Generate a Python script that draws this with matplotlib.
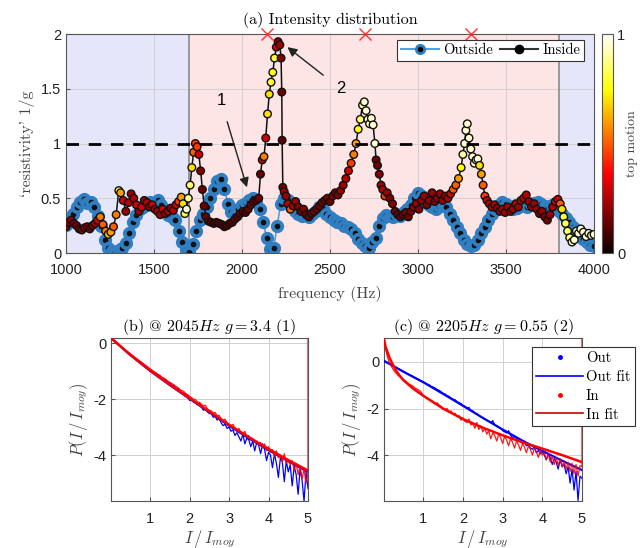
import numpy as np
import matplotlib
matplotlib.use("Agg")
import matplotlib.pyplot as plt
from matplotlib.lines import Line2D
from matplotlib import cm, colors

plt.rcParams.update({
    "font.family": ["Liberation Sans", "DejaVu Sans"],
    "mathtext.fontset": "cm",
    "axes.unicode_minus": False,
    "font.size": 10,
})
SERIF = ["cmr10", "DejaVu Serif"]

# ---------------- panel (a) data ----------------
outside_freq = np.arange(1000, 4001, 20)
outside_val = [
    0.26, 0.30, 0.36, 0.42, 0.47, 0.49, 0.46, 0.47, 0.42, 0.34,
    0.25, 0.12, 0.05, 0.02, 0.01, 0.03, 0.05, 0.09, 0.18, 0.28,
    0.35, 0.40, 0.42, 0.45, 0.47, 0.46, 0.48, 0.44, 0.38, 0.35,
    0.33, 0.30, 0.20, 0.10, 0.03, 0.01, 0.08, 0.20, 0.30, 0.36,
    0.42, 0.50, 0.58, 0.66, 0.68, 0.58, 0.45, 0.37, 0.36, 0.40,
    0.44, 0.46, 0.48, 0.50, 0.47, 0.40, 0.28, 0.14, 0.04, 0.05,
    0.25, 0.45, 0.50, 0.48, 0.42, 0.38, 0.36, 0.34, 0.35, 0.33,
    0.36, 0.38, 0.42, 0.40, 0.36, 0.33, 0.30, 0.28, 0.27, 0.25,
    0.24, 0.22, 0.18, 0.13, 0.09, 0.06, 0.05, 0.10, 0.14, 0.25,
    0.32, 0.35, 0.34, 0.33, 0.35, 0.34, 0.37, 0.40, 0.44, 0.50,
    0.55, 0.52, 0.47, 0.44, 0.42, 0.40, 0.43, 0.44, 0.42, 0.36,
    0.30, 0.24, 0.18, 0.12, 0.08, 0.06, 0.07, 0.12, 0.18, 0.24,
    0.30, 0.36, 0.40, 0.44, 0.47, 0.45, 0.42, 0.40, 0.41, 0.43,
    0.44, 0.42, 0.45, 0.46, 0.47, 0.45, 0.43, 0.42, 0.44, 0.42,
    0.38, 0.36, 0.32, 0.28, 0.24, 0.21, 0.18, 0.13, 0.10, 0.07,
    0.06,
]

inside_freq = [
    1000, 1015, 1030, 1045, 1060, 1075, 1090, 1105, 1120, 1135,
    1150, 1165, 1180, 1195, 1210, 1225, 1240, 1255, 1270, 1285,
    1300, 1310, 1325, 1340, 1355, 1370, 1385, 1400, 1415, 1430,
    1445, 1460, 1475, 1490, 1505, 1520, 1535, 1550, 1565, 1580,
    1595, 1610, 1625, 1640, 1655, 1665, 1675, 1685, 1695, 1705,
    1715, 1725, 1735, 1745, 1755, 1765, 1775, 1785, 1795, 1810,
    1825, 1840, 1855, 1870, 1885, 1900, 1915, 1930, 1945, 1960,
    1975, 1990, 2005, 2020, 2035, 2050, 2065, 2080, 2095, 2105,
    2115, 2125, 2135, 2145, 2155, 2165, 2175, 2185, 2195, 2205,
    2215, 2222, 2226, 2228, 2232, 2240, 2250, 2260, 2275, 2290,
    2305, 2320, 2335, 2350, 2365, 2380, 2395, 2410, 2425, 2440,
    2455, 2470, 2485, 2500, 2515, 2530, 2545, 2560, 2575, 2590,
    2605, 2620, 2635, 2648, 2660, 2672, 2685, 2695, 2705, 2715,
    2725, 2735, 2745, 2755, 2762, 2770, 2780, 2790, 2800, 2812,
    2825, 2840, 2855, 2870, 2885, 2900, 2915, 2930, 2945, 2960,
    2975, 2990, 3005, 3020, 3035, 3050, 3065, 3080, 3095, 3110,
    3125, 3140, 3155, 3170, 3185, 3200, 3215, 3230, 3245, 3255,
    3265, 3272, 3280, 3290, 3300, 3310, 3320, 3330, 3340, 3350,
    3360, 3370, 3380, 3392, 3405, 3420, 3435, 3450, 3465, 3480,
    3495, 3510, 3525, 3540, 3555, 3570, 3585, 3600, 3615, 3630,
    3645, 3660, 3675, 3690, 3705, 3720, 3735, 3750, 3765, 3780,
    3795, 3808, 3818, 3828, 3838, 3850, 3862, 3875, 3888, 3900,
    3912, 3925, 3940, 3955, 3970, 3985, 4000,
]
inside_val = [
    0.24, 0.28, 0.30, 0.27, 0.25, 0.22, 0.21, 0.23, 0.24, 0.22,
    0.25, 0.27, 0.30, 0.33, 0.26, 0.20, 0.17, 0.19, 0.24, 0.35,
    0.57, 0.55, 0.48, 0.38, 0.46, 0.54, 0.50, 0.44, 0.38, 0.42,
    0.48, 0.46, 0.42, 0.44, 0.40, 0.38, 0.35, 0.40, 0.36, 0.38,
    0.41, 0.39, 0.44, 0.47, 0.51, 0.45, 0.36, 0.40, 0.50, 0.62,
    0.78, 0.92, 1.00, 0.97, 0.90, 0.75, 0.58, 0.43, 0.33, 0.29,
    0.28, 0.27, 0.28, 0.27, 0.26, 0.24, 0.25, 0.27, 0.28, 0.31,
    0.33, 0.36, 0.38, 0.37, 0.40, 0.44, 0.47, 0.48, 0.50, 0.72,
    0.85, 0.88, 1.05, 1.27, 1.45, 1.56, 1.65, 1.78, 1.88, 1.93,
    1.90, 1.78, 1.47, 1.03, 0.60, 0.56, 0.52, 0.45, 0.40, 0.43,
    0.47, 0.42, 0.38, 0.40, 0.35, 0.33, 0.36, 0.38, 0.40, 0.43,
    0.46, 0.48, 0.50, 0.47, 0.52, 0.55, 0.53, 0.57, 0.62, 0.68,
    0.75, 0.82, 0.90, 1.00, 1.13, 1.22, 1.35, 1.38, 1.30, 1.22,
    1.18, 1.23, 1.17, 1.00, 0.85, 0.80, 0.72, 0.62, 0.58, 0.52,
    0.55, 0.50, 0.45, 0.38, 0.35, 0.33, 0.35, 0.37, 0.33, 0.38,
    0.42, 0.45, 0.40, 0.48, 0.52, 0.44, 0.48, 0.55, 0.47, 0.50,
    0.54, 0.48, 0.52, 0.50, 0.54, 0.58, 0.62, 0.68, 0.78, 0.90,
    1.00, 1.12, 1.18, 1.05, 0.95, 0.88, 0.82, 0.85, 0.86, 0.80,
    0.72, 0.62, 0.52, 0.48, 0.45, 0.42, 0.44, 0.41, 0.38, 0.40,
    0.37, 0.42, 0.38, 0.40, 0.45, 0.42, 0.48, 0.50, 0.53, 0.47,
    0.42, 0.45, 0.40, 0.36, 0.38, 0.33, 0.30, 0.35, 0.42, 0.47,
    0.49, 0.45, 0.40, 0.33, 0.27, 0.20, 0.14, 0.10, 0.12, 0.20,
    0.18, 0.22, 0.19, 0.15, 0.18, 0.16, 0.17,
]
inside_motion = [
    0.18, 0.22, 0.22, 0.18, 0.18, 0.15, 0.18, 0.22, 0.18, 0.15,
    0.18, 0.22, 0.30, 0.55, 0.50, 0.55, 0.65, 0.60, 0.50, 0.55,
    0.80, 0.60, 0.30, 0.22, 0.26, 0.22, 0.26, 0.30, 0.22, 0.30,
    0.22, 0.26, 0.22, 0.30, 0.22, 0.26, 0.22, 0.30, 0.22, 0.26,
    0.22, 0.26, 0.30, 0.45, 0.60, 0.70, 0.80, 0.95, 0.90, 0.85,
    0.70, 0.50, 0.45, 0.45, 0.30, 0.18, 0.15, 0.15, 0.15, 0.12,
    0.12, 0.12, 0.12, 0.12, 0.12, 0.12, 0.12, 0.12, 0.12, 0.15,
    0.12, 0.15, 0.15, 0.12, 0.15, 0.15, 0.15, 0.12, 0.15, 0.15,
    0.26, 0.55, 0.30, 0.70, 0.70, 0.80, 0.75, 0.80, 0.30, 0.18,
    0.22, 0.18, 0.15, 0.12, 0.15, 0.22, 0.22, 0.26, 0.50, 0.22,
    0.22, 0.18, 0.18, 0.18, 0.15, 0.15, 0.15, 0.18, 0.15, 0.15,
    0.18, 0.15, 0.18, 0.15, 0.18, 0.15, 0.18, 0.22, 0.22, 0.26,
    0.30, 0.45, 0.55, 0.60, 0.75, 0.85, 0.90, 0.95, 0.95, 0.95,
    0.95, 0.95, 0.95, 0.95, 0.15, 0.15, 0.18, 0.22, 0.26, 0.45,
    0.22, 0.18, 0.18, 0.15, 0.15, 0.15, 0.15, 0.18, 0.15, 0.18,
    0.22, 0.22, 0.18, 0.22, 0.22, 0.18, 0.22, 0.22, 0.18, 0.22,
    0.22, 0.22, 0.22, 0.26, 0.30, 0.50, 0.50, 0.60, 0.75, 0.90,
    0.95, 0.95, 0.95, 0.95, 0.95, 0.95, 0.95, 0.95, 0.95, 0.70,
    0.60, 0.50, 0.45, 0.30, 0.26, 0.26, 0.26, 0.22, 0.22, 0.26,
    0.22, 0.26, 0.22, 0.22, 0.26, 0.22, 0.26, 0.26, 0.26, 0.22,
    0.22, 0.22, 0.22, 0.18, 0.22, 0.18, 0.15, 0.22, 0.26, 0.30,
    0.30, 0.50, 0.70, 0.80, 0.85, 0.85, 0.85, 0.90, 0.95, 0.95,
    0.95, 0.95, 0.95, 0.95, 0.95, 0.95, 0.95,
]

regions = [(1000, 1700, "out"), (1700, 3800, "in"), (3800, 4000, "out")]
boundaries = [1700, 3800]
cross_freq = [2140, 2700, 3300]
threshold = 1.0

# ---------------- panels (b), (c) data ----------------
x_grid = np.round(np.arange(1, 101) * 0.05, 2)
fit_x = [0.01, 0.5, 1.0, 1.5, 2.0, 2.5, 3.0, 3.5, 4.0, 4.5, 5.0]

b_out = [
    0.12, 0.06, 0.00, -0.06, -0.12, -0.17, -0.23, -0.29, -0.33, -0.40,
    -0.45, -0.51, -0.55, -0.62, -0.66, -0.72, -0.77, -0.82, -0.88, -0.95,
    -0.98, -1.05, -1.08, -1.14, -1.18, -1.25, -1.28, -1.33, -1.40, -1.43,
    -1.50, -1.52, -1.60, -1.62, -1.70, -1.75, -1.78, -1.85, -1.86, -2.05,
    -2.00, -2.10, -2.12, -2.20, -2.15, -2.28, -2.40, -2.35, -2.45, -2.52,
    -2.50, -2.65, -2.62, -2.75, -2.70, -2.85, -2.95, -2.90, -3.05, -3.00,
    -3.15, -3.10, -3.30, -3.20, -3.35, -3.50, -3.25, -3.60, -3.40, -3.45,
    -3.70, -3.50, -3.85, -3.55, -3.65, -3.95, -3.60, -3.80, -4.20, -3.90,
    -4.00, -4.45, -3.95, -4.30, -4.80, -4.10, -4.25, -4.95, -4.20, -4.60,
    -4.35, -5.10, -4.40, -4.70, -5.40, -4.50, -4.90, -5.65, -4.60, -5.20,
]
b_in = [
    0.15, 0.07, 0.02, -0.05, -0.10, -0.17, -0.22, -0.28, -0.34, -0.38,
    -0.44, -0.50, -0.55, -0.60, -0.66, -0.70, -0.76, -0.82, -0.86, -0.92,
    -0.97, -1.02, -1.06, -1.12, -1.15, -1.22, -1.25, -1.30, -1.36, -1.40,
    -1.45, -1.48, -1.55, -1.58, -1.65, -1.70, -1.72, -1.80, -1.84, -1.90,
    -1.95, -2.00, -2.02, -2.10, -2.12, -2.18, -2.25, -2.22, -2.35, -2.40,
    -2.42, -2.50, -2.48, -2.60, -2.58, -2.70, -2.75, -2.72, -2.85, -2.90,
    -2.95, -2.90, -3.05, -3.10, -3.05, -3.20, -3.25, -3.15, -3.35, -3.30,
    -3.45, -3.40, -3.55, -3.50, -3.65, -3.55, -3.75, -3.60, -3.85, -3.70,
    -3.90, -3.80, -4.05, -3.85, -4.10, -4.00, -4.25, -3.95, -4.30, -4.15,
    -4.35, -4.20, -4.55, -4.30, -4.70, -4.40, -4.85, -4.50, -5.00, -4.65,
    10.0,
]
b_out_fit = [0.18, -0.43, -0.99, -1.50, -1.99, -2.47, -2.95, -3.40, -3.82, -4.22, -4.60]
b_in_fit = [0.18, -0.42, -0.98, -1.49, -1.97, -2.44, -2.92, -3.36, -3.78, -4.18, -4.55]

c_out = [
    0.02, -0.03, -0.08, -0.12, -0.18, -0.22, -0.27, -0.31, -0.36, -0.40,
    -0.45, -0.50, -0.55, -0.58, -0.63, -0.68, -0.72, -0.76, -0.82, -0.85,
    -0.90, -0.95, -0.98, -1.05, -1.08, -1.12, -1.18, -1.22, -1.28, -1.35,
    -1.38, -1.45, -1.48, -1.55, -1.60, -1.62, -1.70, -1.75, -1.78, -1.88,
    -1.90, -1.98, -1.95, -2.08, -2.10, -2.20, -2.22, -2.30, -2.35, -2.40,
    -2.45, -2.50, -2.55, -2.60, -2.52, -2.70, -2.75, -2.80, -2.85, -2.95,
    -3.00, -3.05, -2.95, -3.15, -3.25, -3.20, -3.30, -3.40, -3.35, -3.50,
    -3.45, -3.60, -3.55, -3.70, -3.75, -3.65, -3.90, -3.80, -3.95, -3.85,
    -4.00, -4.20, -3.95, -4.10, -4.40, -4.15, -4.30, -4.60, -4.20, -4.50,
    -4.40, -4.80, -4.50, -5.20, -4.60, -5.50, -4.70, -5.95, -4.90, -5.00,
]
c_in = [
    0.55, 0.20, -0.05, -0.20, -0.35, -0.45, -0.55, -0.62, -0.70, -0.76,
    -0.82, -0.90, -0.95, -1.00, -1.05, -1.12, -1.17, -1.22, -1.30, -1.45,
    -1.50, -1.55, -1.60, -1.65, -1.72, -1.80, -1.75, -1.85, -1.92, -2.00,
    -2.05, -2.00, -2.15, -2.10, -2.25, -2.20, -2.35, -2.30, -2.50, -2.40,
    -2.55, -2.60, -2.45, -2.70, -2.65, -2.85, -2.60, -2.90, -2.75, -3.00,
    -2.85, -3.10, -2.95, -3.30, -3.05, -3.15, -3.40, -3.10, -3.25, -3.50,
    -3.20, -3.35, -3.60, -3.30, -3.45, -3.70, -3.40, -3.55, -3.80, -3.50,
    -3.65, -3.90, -3.60, -3.75, -4.00, -3.70, -3.85, -4.10, -3.80, -4.00,
    -3.90, -4.20, -3.95, -4.30, -4.05, -4.40, -4.10, -4.45, -4.15, -4.50,
    -4.25, -4.60, -4.30, -4.70, -4.35, -4.80, -4.40, -4.90, -4.45, -4.50,
    10.0,
]
c_out_fit = [0.05, -0.42, -0.87, -1.37, -1.88, -2.40, -2.90, -3.38, -3.82, -4.24, -4.64]
c_in_fit_x = [0.01, 0.05, 0.1, 0.15, 0.2, 0.3, 0.4, 0.5, 0.75, 1.0, 1.5, 2.0, 2.5, 3.0, 3.5, 4.0, 4.5, 5.0]
c_in_fit = [1.0, 0.65, 0.42, 0.18, 0.0, -0.33, -0.58, -0.78, -1.15, -1.45, -2.0, -2.45, -2.82, -3.15, -3.45, -3.72, -4.0, -4.3]

# ---------------- figure ----------------
W, H = 644, 548
fig = plt.figure(figsize=(W / 100, H / 100), dpi=100)

def box(l, t, r, b):
    return [l / W, 1 - b / H, (r - l) / W, (b - t) / H]

ax = fig.add_axes(box(66, 34, 594, 253))
cax = fig.add_axes(box(602, 34, 613, 253))
axb = fig.add_axes(box(111, 338, 308, 501))
axc = fig.add_axes(box(384, 338, 582, 501))

EDGE = "#555555"
def style(a, xpad=6):
    for s in a.spines.values():
        s.set_color(EDGE)
        s.set_linewidth(0.8)
    a.tick_params(direction="in", length=3, color=EDGE, labelsize=10.5, labelcolor="#222222")
    a.tick_params(axis="x", pad=xpad)
    a.grid(True, color="#d0d0d0", linewidth=0.7)
    a.set_axisbelow(True)

# panel (a)
style(ax, xpad=7)
span_col = {"out": "#e6e6fb", "in": "#fde4e5"}
for lo, hi, kind in regions:
    ax.axvspan(lo, hi, color=span_col[kind], zorder=0.1, lw=0)
for bnd in boundaries:
    ax.axvline(bnd, color="#8a8a8a", lw=1.2, zorder=0.6)
ax.axhline(threshold, color="black", lw=2, dashes=(4.5, 3.5), zorder=5)

cmap = plt.get_cmap("hot")
norm = colors.Normalize(0, 1)
out_line_col = "#4da3dd"
out_edge_col = "#2f7fc2"
ax.plot(outside_freq, outside_val, "-", color=out_line_col, lw=1.2, zorder=2)
ax.plot(outside_freq, outside_val, "o", ms=6.8, mfc="#101010", mec=out_edge_col, mew=2.7, zorder=2.1)
ax.plot(inside_freq, inside_val, "-", color="#111111", lw=1.1, zorder=3)
ax.scatter(inside_freq, inside_val, s=30, c=inside_motion, cmap=cmap, norm=norm,
           edgecolors="#111111", linewidths=1.0, zorder=4)
ax.plot(cross_freq, [2] * len(cross_freq), "x", color="#ff3030", ms=9, mew=1.0,
        clip_on=False, zorder=6)

ax.set_xlim(1000, 4000)
ax.set_ylim(0, 2)
ax.set_xticks([1000, 1500, 2000, 2500, 3000, 3500, 4000])
ax.set_yticks([0, 0.5, 1, 1.5, 2])
ax.set_yticklabels(["0", "0.5", "1", "1.5", "2"])
ax.set_title("(a) Intensity distribution", family=SERIF, fontsize=11.5, pad=7)
ax.set_xlabel("frequency (Hz)", family=SERIF, fontsize=11.5, color="#444444", labelpad=7)
ax.set_ylabel("`resistivity' 1/g", family=SERIF, fontsize=11.5, color="#444444", labelpad=4)

ax.annotate("1", xy=(2028, 0.60), xytext=(1880, 1.39), fontsize=12,
            ha="center", va="center",
            arrowprops=dict(arrowstyle="-|>", color="#222222", lw=1.0,
                            mutation_scale=14, shrinkA=8, shrinkB=0), zorder=7)
ax.annotate("2", xy=(2258, 1.88), xytext=(2560, 1.50), fontsize=12,
            ha="center", va="center",
            arrowprops=dict(arrowstyle="-|>", color="#222222", lw=1.0,
                            mutation_scale=14, shrinkA=9, shrinkB=0), zorder=7)

leg_handles = [
    Line2D([], [], color=out_line_col, lw=1.5, marker="o", ms=6, mfc="black", mec=out_edge_col, mew=2),
    Line2D([], [], color="#333333", lw=1.5, marker="o", ms=6, mfc="black", mec="black"),
]
leg = ax.legend(leg_handles, ["Outside", "Inside"], ncol=2, loc="upper right",
                bbox_to_anchor=(0.981, 0.972), prop={"family": SERIF, "size": 10.5},
                fancybox=False, edgecolor="#333333", framealpha=1, borderpad=0.25,
                handlelength=2.6, columnspacing=0.5, handletextpad=0.3, borderaxespad=0)
leg.get_frame().set_linewidth(0.8)
leg.set_zorder(10)

sm = cm.ScalarMappable(norm=norm, cmap=cmap)
cb = fig.colorbar(sm, cax=cax, ticks=[0, 1])
cb.outline.set_edgecolor(EDGE)
cb.outline.set_linewidth(0.8)
cax.tick_params(length=0, labelsize=10.5, labelcolor="#222222", pad=3)
cb.set_ticklabels(["0", "1"])
cb.set_label("top motion", family=SERIF, fontsize=10, color="#444444", labelpad=0)

# panels (b) and (c)
x_in = np.append(x_grid, 5.0)

def small(a, out_y, in_y, out_fit_x, out_fit, in_fit_x, in_fit, ylim, title):
    style(a, xpad=8)
    a.plot(x_grid, out_y, color="#0000ff", lw=0.9, zorder=2)
    a.plot(out_fit_x, out_fit, color="#0000ff", lw=1.6, zorder=3)
    a.plot(x_in, in_y, color="#ff0000", lw=0.9, zorder=4, alpha=0.9)
    a.plot(in_fit_x, in_fit, color="#ff0000", lw=1.8, zorder=5)
    a.set_xlim(0.01, 5)
    a.set_ylim(*ylim)
    a.set_xticks([1, 2, 3, 4, 5])
    a.set_yticks([-4, -2, 0])
    a.set_yticklabels(["-4", "-2", "0"])
    a.set_title(title, family=SERIF, fontsize=11.5, pad=5)
    a.set_xlabel(r"$I\,/\,I_{moy}$", fontsize=12, color="#444444", labelpad=1)
    a.set_ylabel(r"$P(I\,/\,I_{moy})$", fontsize=12, color="#444444", labelpad=2)

small(axb, b_out, b_in, fit_x, b_out_fit, fit_x, b_in_fit, (-5.64, 0.18),
      r"(b) @ 2045$Hz$ $g = 3.4$ (1)")
small(axc, c_out, c_in, fit_x, c_out_fit, c_in_fit_x, c_in_fit, (-5.97, 1.03),
      r"(c) @ 2205$Hz$ $g = 0.55$ (2)")

lh = [
    Line2D([], [], color="#0000ff", marker=".", ls="none", ms=5),
    Line2D([], [], color="#0000ff", lw=1.2),
    Line2D([], [], color="#ff0000", marker=".", ls="none", ms=5),
    Line2D([], [], color="#cc0000", lw=1.2),
]
lg = axc.legend(lh, ["Out", "Out fit", "In", "In fit"], loc="upper right",
                bbox_to_anchor=(1.268, 0.945), prop={"family": SERIF, "size": 10.5},
                fancybox=False, edgecolor="#333333", framealpha=1, borderpad=0.3,
                labelspacing=0.35, handlelength=3.2, handletextpad=0.2, borderaxespad=0)
lg.get_frame().set_linewidth(0.8)
lg.set_zorder(10)

fig.savefig("out.png", dpi=100)
